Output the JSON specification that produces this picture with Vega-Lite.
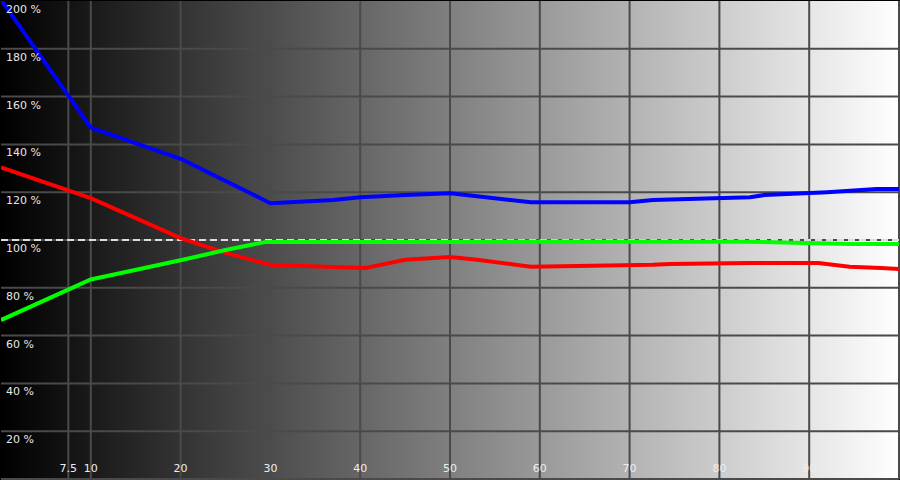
{
  "$schema": "https://vega.github.io/schema/vega-lite/v6.json",
  "autosize": {"type": "fit", "contains": "padding"},
  "width": 900,
  "height": 480,
  "padding": 0,
  "background": "#000000",
  "config": {"view": {"stroke": null}},
  "datasets": {
    "bg": [{"x": 0, "x2": 100, "y": 0, "y2": 200}],
    "gridx": [{"v": 7.5}, {"v": 10}, {"v": 20}, {"v": 30}, {"v": 40}, {"v": 50}, {"v": 60}, {"v": 70}, {"v": 80}, {"v": 90}, {"v": 100}],
    "gridy": [{"v": 0}, {"v": 20}, {"v": 40}, {"v": 60}, {"v": 80}, {"v": 100}, {"v": 120}, {"v": 140}, {"v": 160}, {"v": 180}],
    "ref": [{"v": 100}],
    "ylabels": [
      {"v": 20, "label": "20 %"}, {"v": 40, "label": "40 %"}, {"v": 60, "label": "60 %"},
      {"v": 80, "label": "80 %"}, {"v": 100, "label": "100 %"}, {"v": 120, "label": "120 %"},
      {"v": 140, "label": "140 %"}, {"v": 160, "label": "160 %"}, {"v": 180, "label": "180 %"},
      {"v": 200, "label": "200 %"}
    ],
    "xlabels": [
      {"v": 7.5, "label": "7.5"}, {"v": 10, "label": "10"}, {"v": 20, "label": "20"}, {"v": 30, "label": "30"},
      {"v": 40, "label": "40"}, {"v": 50, "label": "50"}, {"v": 60, "label": "60"}, {"v": 70, "label": "70"},
      {"v": 80, "label": "80"}, {"v": 90, "label": "90"}
    ],
    "series": [
      {"c": "Blue", "x": 0, "y": 200.5},
      {"c": "Blue", "x": 10, "y": 147},
      {"c": "Blue", "x": 20, "y": 134},
      {"c": "Blue", "x": 30, "y": 115.4},
      {"c": "Blue", "x": 37, "y": 116.7},
      {"c": "Blue", "x": 40, "y": 117.9},
      {"c": "Blue", "x": 45, "y": 118.8},
      {"c": "Blue", "x": 50, "y": 119.6},
      {"c": "Blue", "x": 53, "y": 118.3},
      {"c": "Blue", "x": 59, "y": 115.8},
      {"c": "Blue", "x": 70, "y": 115.8},
      {"c": "Blue", "x": 72.6, "y": 116.7},
      {"c": "Blue", "x": 83.4, "y": 117.9},
      {"c": "Blue", "x": 85, "y": 118.8},
      {"c": "Blue", "x": 92, "y": 120},
      {"c": "Blue", "x": 97.5, "y": 121.3},
      {"c": "Blue", "x": 100, "y": 121.3},
      {"c": "Red", "x": 0, "y": 130.4},
      {"c": "Red", "x": 10, "y": 117.5},
      {"c": "Red", "x": 20, "y": 100.8},
      {"c": "Red", "x": 25, "y": 94.6},
      {"c": "Red", "x": 30, "y": 89.6},
      {"c": "Red", "x": 36, "y": 88.8},
      {"c": "Red", "x": 40.6, "y": 88.3},
      {"c": "Red", "x": 45, "y": 91.7},
      {"c": "Red", "x": 50, "y": 92.9},
      {"c": "Red", "x": 53, "y": 91.7},
      {"c": "Red", "x": 59, "y": 88.8},
      {"c": "Red", "x": 72.6, "y": 89.6},
      {"c": "Red", "x": 74.5, "y": 90},
      {"c": "Red", "x": 83.4, "y": 90.4},
      {"c": "Red", "x": 91, "y": 90.4},
      {"c": "Red", "x": 94.5, "y": 88.8},
      {"c": "Red", "x": 98, "y": 88.3},
      {"c": "Red", "x": 100, "y": 87.9},
      {"c": "Green", "x": 0, "y": 66.5},
      {"c": "Green", "x": 10, "y": 83.5},
      {"c": "Green", "x": 20, "y": 91.5},
      {"c": "Green", "x": 25, "y": 95.8},
      {"c": "Green", "x": 29.5, "y": 99.2},
      {"c": "Green", "x": 50, "y": 99.2},
      {"c": "Green", "x": 83.4, "y": 99.3},
      {"c": "Green", "x": 94.5, "y": 98.3},
      {"c": "Green", "x": 100, "y": 98.3}
    ]
  },
  "layer": [
    {
      "data": {"name": "bg"},
      "mark": {
        "type": "rect",
        "fill": {
          "gradient": "linear", "x1": 0, "y1": 0, "x2": 1, "y2": 0,
          "stops": [
            {"offset": 0, "color": "#000000"},
            {"offset": 1, "color": "#ffffff"}
          ]
        }
      },
      "encoding": {
        "x": {"field": "x", "type": "quantitative", "scale": {"domain": [0, 100], "nice": false, "zero": false}, "axis": null},
        "x2": {"field": "x2"},
        "y": {"field": "y", "type": "quantitative", "scale": {"domain": [0, 200], "nice": false, "zero": false}, "axis": null},
        "y2": {"field": "y2"}
      }
    },
    {
      "data": {"name": "gridx"},
      "mark": {"type": "rule", "color": "#4a4a4a", "strokeWidth": 2},
      "encoding": {"x": {"field": "v", "type": "quantitative"}}
    },
    {
      "data": {"name": "gridy"},
      "mark": {"type": "rule", "color": "#4a4a4a", "strokeWidth": 2},
      "encoding": {"y": {"field": "v", "type": "quantitative"}}
    },
    {
      "data": {"name": "ref"},
      "mark": {"type": "rule", "color": "#dddddd", "strokeWidth": 2, "strokeDash": [7, 4]},
      "encoding": {"y": {"field": "v", "type": "quantitative"}}
    },
    {
      "data": {"name": "series"},
      "mark": {"type": "line", "strokeWidth": 4, "clip": true},
      "encoding": {
        "x": {"field": "x", "type": "quantitative"},
        "y": {"field": "y", "type": "quantitative"},
        "color": {
          "field": "c", "type": "nominal",
          "scale": {"domain": ["Blue", "Red", "Green"], "range": ["#0000ff", "#ff0000", "#00ff00"]},
          "legend": null
        }
      }
    },
    {
      "data": {"name": "ylabels"},
      "mark": {"type": "text", "align": "left", "baseline": "top", "dx": 5, "dy": 3, "font": "DejaVu Sans", "fontSize": 11, "color": "#e6e6e6"},
      "encoding": {
        "x": {"datum": 0, "type": "quantitative"},
        "y": {"field": "v", "type": "quantitative"},
        "text": {"field": "label"}
      }
    },
    {
      "data": {"name": "xlabels"},
      "mark": {"type": "text", "align": "center", "baseline": "bottom", "dy": -5, "font": "DejaVu Sans", "fontSize": 11, "color": "#eeeeee"},
      "encoding": {
        "x": {"field": "v", "type": "quantitative"},
        "y": {"datum": 0, "type": "quantitative"},
        "text": {"field": "label"}
      }
    }
  ]
}
